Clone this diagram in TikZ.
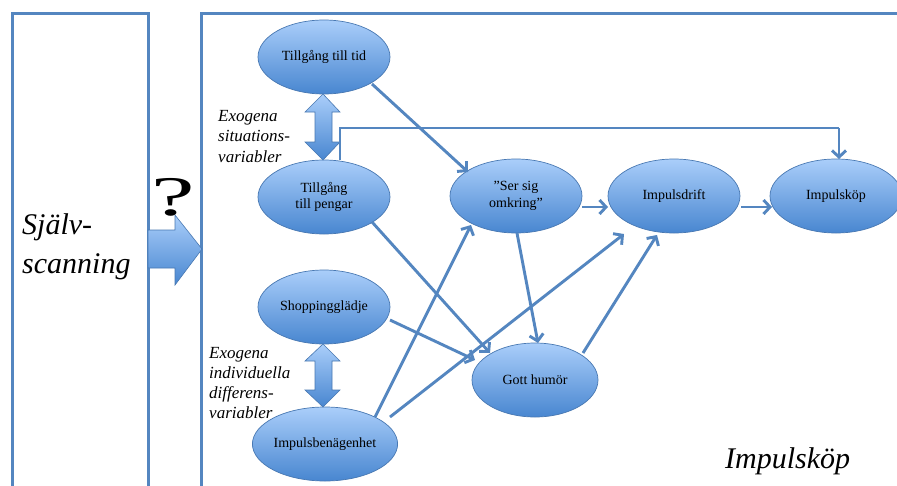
\documentclass[tikz,border=0pt]{standalone}
\usepackage{fontspec}
\setmainfont{Liberation Serif}
\usetikzlibrary{shapes.geometric,arrows.meta,calc}
\definecolor{lineblue}{RGB}{84,134,192}
\definecolor{topblue}{RGB}{170,206,250}
\definecolor{botblue}{RGB}{72,134,208}
\definecolor{edgeblue}{RGB}{72,120,178}
\begin{document}
\begin{tikzpicture}[x=1pt,y=-1pt,
  ell/.style={ellipse, draw=edgeblue, line width=0.7pt, top color=topblue, bottom color=botblue,
    minimum width=132pt, minimum height=74pt, inner sep=0pt,
    font=\fontsize{14}{16.5}\selectfont, align=center},
  conn/.style={draw=lineblue, line width=2.9pt, -{Straight Barb[length=6.5pt,width=14pt]}},
  plainconn/.style={draw=lineblue, line width=2.9pt},
  boxline/.style={draw=lineblue, line width=3pt},
  fatarrow/.style={draw=edgeblue, line width=0.6pt, top color=topblue, bottom color=botblue},
  sidetext/.style={font=\itshape\fontsize{17}{20.5}\selectfont, align=left, inner sep=0pt, anchor=base west},
  bigtext/.style={font=\itshape\fontsize{30}{39}\selectfont, align=left, inner sep=0pt, anchor=base west}
]
\useasboundingbox (0,0) rectangle (897,485);
\clip (0,0) rectangle (897,485);
\fill[white] (0,0) rectangle (897,485);

% frames
\draw[boxline] (12,13) rectangle (148,500);
\draw[boxline] (201,13) rectangle (920,500);

% big arrow and question mark
\path[fatarrow] (148,230) -- (175,230) -- (175,215) -- (202,249) -- (175,285) -- (175,268) -- (148,268) -- cycle;
\node[font=\fontsize{56}{56}\selectfont, xscale=1.75, inner sep=0pt] (q) at (173,197) {?};

% texts
\node[bigtext] (sjalv) at (22,273) {Själv-\\scanning};
\node[bigtext] (impk) at (725,468) {Impulsköp};
\node[sidetext] (exo1) at (218,162) {Exogena\\situations-\\variabler};
\node[sidetext, font=\itshape\fontsize{17}{20}\selectfont] (exo2) at (209,418) {Exogena\\individuella\\differens-\\variabler};

% ellipses
\node[ell] (tid) at (324,57) {Tillgång till tid};
\node[ell] (pengar) at (324,197) {Tillgång\\till pengar};
\node[ell] (ser) at (516,196) {”Ser sig\\omkring”};
\node[ell] (drift) at (674,196) {Impulsdrift};
\node[ell] (kop) at (836,196) {Impulsköp};
\node[ell] (shop) at (324,307) {Shoppingglädje};
\node[ell] (benag) at (325,444) {Impulsbenägenhet};
\node[ell, minimum width=126pt] (humor) at (535,380) {Gott humör};

% double arrows
\path[fatarrow] (323,94) -- (340,112) -- (332,112) -- (332,142) -- (340,142) -- (323,160)
  -- (305,142) -- (315,142) -- (315,112) -- (305,112) -- cycle;
\path[fatarrow] (323,344) -- (340,361) -- (332,361) -- (332,390) -- (340,390) -- (323,407)
  -- (305,390) -- (315,390) -- (315,361) -- (305,361) -- cycle;

% connectors
\coordinate (c1) at ($(pengar)+(16,-69)$);
\coordinate (c2) at ($(kop)+(3,-68)$);
\draw[plainconn] ($(pengar)+(16,-37)$) -- (c1) -- (c2);
\draw[conn] (c2) -- ($(kop)+(3,-37)$);
\draw[conn] ($(tid)+(48,27)$) -- ($(ser)+(-48,-24)$);
\draw[conn] ($(pengar)+(48,25)$) -- ($(humor)+(-45,-27)$);
\draw[conn] ($(shop)+(66,13)$) -- ($(humor)+(-60,-20)$);
\draw[conn] ($(benag)+(50,-27)$) -- ($(ser)+(-45,29)$);
\draw[conn] ($(benag)+(65,-27)$) -- ($(drift)+(-50,38)$);
\draw[conn] ($(ser)+(66,11)$) -- ($(drift)+(-66,11)$);
\draw[conn] ($(drift)+(67,11)$) -- ($(kop)+(-64,11)$);
\draw[conn] ($(ser)+(1,37)$) -- ($(humor)+(3,-37)$);
\draw[conn] ($(humor)+(48,-27)$) -- ($(drift)+(-17,39)$);
\end{tikzpicture}
\end{document}
